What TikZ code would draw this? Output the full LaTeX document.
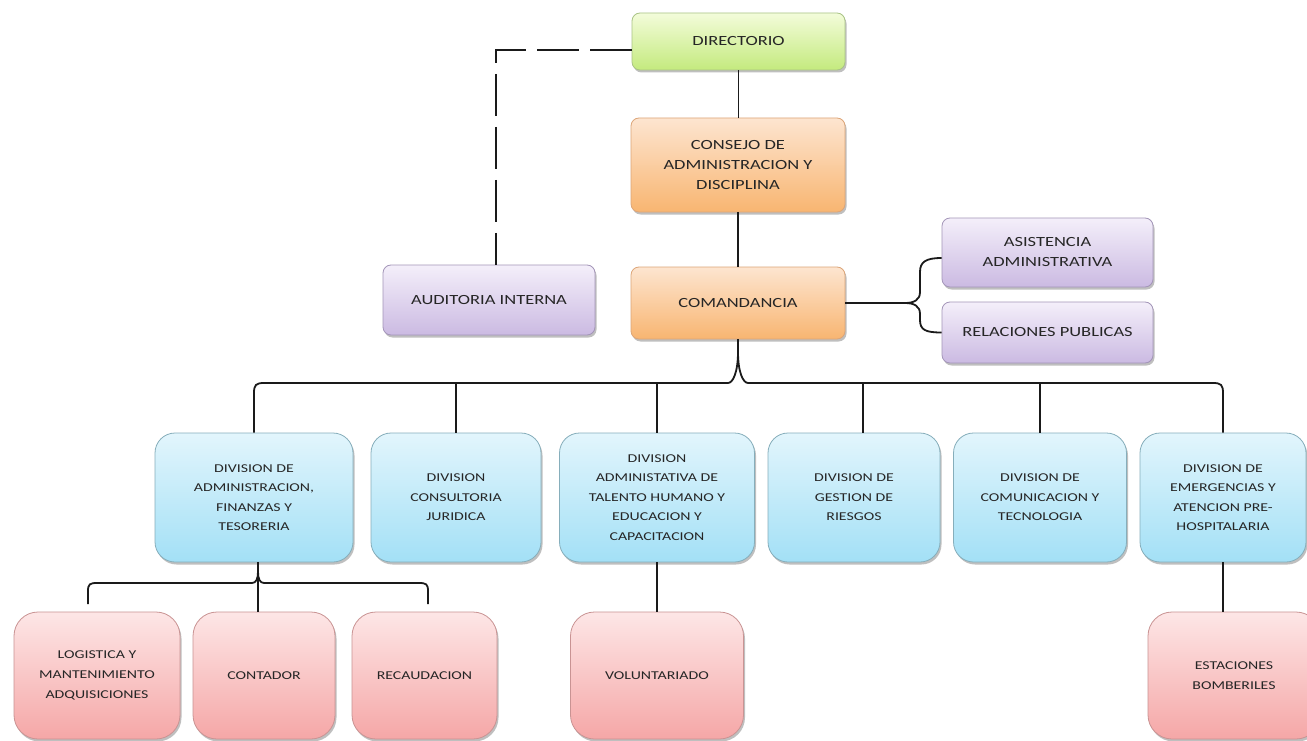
\documentclass[tikz,border=0pt]{standalone}
\usepackage{fontspec}
\setmainfont{Carlito}[FakeStretch=1.32]
\usetikzlibrary{shadows}

\definecolor{txt}{HTML}{262626}
\definecolor{lnk}{HTML}{1A1A1A}
\definecolor{grT}{HTML}{F3FCDA}\definecolor{grB}{HTML}{C4EA7E}\definecolor{grD}{HTML}{A9C385}
\definecolor{orT}{HTML}{FDE5D0}\definecolor{orB}{HTML}{F8B571}\definecolor{orD}{HTML}{DCA578}
\definecolor{viT}{HTML}{F4EFFA}\definecolor{viB}{HTML}{CBBAE2}\definecolor{viD}{HTML}{A395B8}
\definecolor{blT}{HTML}{E2F5FC}\definecolor{blB}{HTML}{A3E0F6}\definecolor{blD}{HTML}{86AEBB}
\definecolor{piT}{HTML}{FDE6E6}\definecolor{piB}{HTML}{F5A7A7}\definecolor{piD}{HTML}{C99393}

\begin{document}
\begin{tikzpicture}[x=1pt,y=-1pt,
  box/.style={draw, align=center, inner sep=0pt, text=txt, line width=0.8pt,
    drop shadow={shadow xshift=1.5pt,shadow yshift=-2.5pt,opacity=0.25,fill=black}},
  upper/.style={box, rounded corners=8pt, font=\fontsize{14}{20}\selectfont},
  green/.style={upper, draw=grD, top color=grT, bottom color=grB},
  orng/.style={upper, draw=orD, top color=orT, bottom color=orB},
  viol/.style={upper, draw=viD, top color=viT, bottom color=viB},
  division/.style={box, rounded corners=20pt, draw=blD, top color=blT, bottom color=blB,
    minimum height=129pt, font=\fontsize{12}{19.5}\selectfont},
  unit/.style={box, rounded corners=24pt, draw=piD, top color=piT, bottom color=piB,
    minimum height=127pt, font=\fontsize{12}{20}\selectfont},
  conn/.style={draw=lnk, line width=1.8pt},
  dashlink/.style={draw=lnk, line width=2pt, dash pattern=on 42pt off 11pt}
]
\fill[white] (0,0) rectangle (1307,741);
\useasboundingbox (0,0) rectangle (1307,741);

% upper levels
\node[green, minimum width=213pt, minimum height=57pt] (dir) at (738.5,41.5) {DIRECTORIO};
\node[orng, minimum width=214pt, minimum height=94pt] (con) at (738,165) {CONSEJO DE\\ADMINISTRACION Y\\DISCIPLINA};
\node[orng, minimum width=214pt, minimum height=72pt] (com) at (738,303) {COMANDANCIA};
\node[viol, minimum width=212pt, minimum height=70pt] (aud) at (489,300) {AUDITORIA INTERNA};
\node[viol, minimum width=211pt, minimum height=69pt] (asi) at (1047.5,252.5) {ASISTENCIA\\ADMINISTRATIVA};
\node[viol, minimum width=211pt, minimum height=61pt] (rel) at (1047.5,332.5) {RELACIONES PUBLICAS};

% divisions
\node[division, minimum width=198pt] (d1) at (254,497.5) {DIVISION DE\\ADMINISTRACION,\\FINANZAS Y\\TESORERIA};
\node[division, minimum width=170pt] (d2) at (456,497.5) {DIVISION\\CONSULTORIA\\JURIDICA};
\node[division, minimum width=195pt] (d3) at (657,497.5) {DIVISION\\ADMINISTATIVA DE\\TALENTO HUMANO Y\\EDUCACION Y\\CAPACITACION};
\node[division, minimum width=172pt] (d4) at (854,497.5) {DIVISION DE\\GESTION DE\\RIESGOS};
\node[division, minimum width=173pt] (d5) at (1040,497.5) {DIVISION DE\\COMUNICACION Y\\TECNOLOGIA};
\node[division, minimum width=166pt] (d6) at (1223,497.5) {DIVISION DE\\EMERGENCIAS Y\\ATENCION PRE-\\HOSPITALARIA};

% units
\node[unit, minimum width=166pt] (p1) at (97,675.5) {LOGISTICA Y\\MANTENIMIENTO\\ADQUISICIONES};
\node[unit, minimum width=142pt] (p2) at (264,675.5) {CONTADOR};
\node[unit, minimum width=145pt] (p3) at (424.5,675.5) {RECAUDACION};
\node[unit, minimum width=173pt] (p4) at (657,675.5) {VOLUNTARIADO};
\node[unit, minimum width=172pt] (p5) at (1234,675.5) {ESTACIONES\\BOMBERILES};

% vertical chain
\draw[conn] (dir.south) -- (dir.south |- con.north);
\draw[conn] (con.south) -- (con.south |- com.north);

% dashed link to internal audit
\draw[dashlink] ([yshift=-9pt]dir.west) -| ([xshift=7pt]aud.north);

% brace to the staff units
\coordinate (tip) at (905,303);
\draw[conn] (com.east) -- (tip);
\draw[conn] ([yshift=-5.5pt]asi.west) .. controls +(-16,0) and +(0,-10) .. (920,272) -- (920,292)
  .. controls +(0,8) and +(9,0) .. (tip)
  .. controls +(9,0) and +(0,-8) .. (920,314) -- (920,320)
  .. controls +(0,10) and +(-16,0) .. (rel.west);

% bus to the divisions
\coordinate (apex) at (738,352);
\draw[conn] (com.south) -- (apex);
\draw[conn] (apex) .. controls +(0,20) and +(5,0) .. (728,383) -- (264,383)
  .. controls +(-8,0) and +(0,-8) .. (254,393) -- (d1.north);
\draw[conn] (apex) .. controls +(0,20) and +(-5,0) .. (748,383) -- (1213,383)
  .. controls +(8,0) and +(0,-8) .. (1223,393) -- (d6.north);
\draw[conn] (d2.north) -- +(0,-50);
\draw[conn] (d3.north) -- +(0,-50);
\draw[conn] ([xshift=9pt]d4.north) -- +(0,-50);
\draw[conn] (d5.north) -- +(0,-50);

% sub-bus under the finance division
\coordinate (sap) at (258,572);
\coordinate (le) at (88,604);
\coordinate (re) at (428,604);
\draw[conn] ([xshift=4pt]d1.south) -- ([xshift=-6pt]p2.north);
\draw[conn] (sap) .. controls +(0,7) and +(4,0) .. (252,583) -- (97,583)
  .. controls +(-7,0) and +(0,-7) .. (88,591) -- (le);
\draw[conn] (sap) .. controls +(0,7) and +(-4,0) .. (264,583) -- (419,583)
  .. controls +(7,0) and +(0,-7) .. (428,591) -- (re);

% single links
\draw[conn] (d3.south) -- (p4.north);
\draw[conn] (d6.south) -- (d6.south |- p5.north);
\end{tikzpicture}
\end{document}
